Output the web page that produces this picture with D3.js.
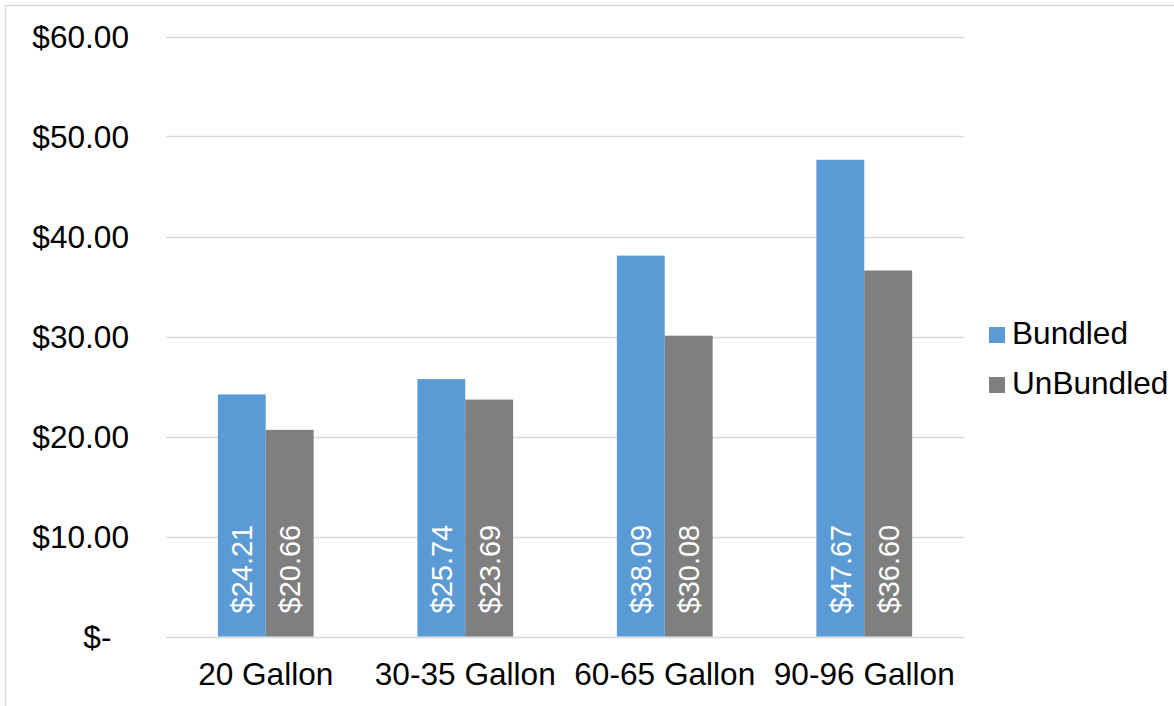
<!DOCTYPE html>
<html>
<head>
<meta charset="utf-8">
<script src="https://cdn.jsdelivr.net/npm/d3@7"></script>
<style>
  html, body { margin: 0; padding: 0; background: #fff; }
  svg { display: block; font-family: "Liberation Sans", Arial, sans-serif; }
  text { white-space: pre; }
</style>
</head>
<body>
<svg id="chart" width="1174" height="706"></svg>
<script>
// Water heater sizes and monthly prices
const categories = ["20 Gallon", "30-35 Gallon", "60-65 Gallon", "90-96 Gallon"];
const seriesNames = ["Bundled", "UnBundled"];
const bundled = [24.21, 25.74, 38.09, 47.67];
const unbundled = [20.66, 23.69, 30.08, 36.60];
const yTicks = [0, 10, 20, 30, 40, 50, 60];
const colors = ["#5B9BD5", "#7F7F7F"];

const seriesValues = [bundled, unbundled];
const rows = categories.map((c, i) => ({
  category: c,
  values: seriesNames.map((s, j) => ({ series: s, value: seriesValues[j][i], color: colors[j] }))
}));

const svg = d3.select("#chart");
const fontSize = 31.6;

// Chart area frame
svg.append("rect")
  .attr("x", 5.5).attr("y", 5.5)
  .attr("width", 1200).attr("height", 750)
  .attr("fill", "#fff")
  .attr("stroke", "#d9d9d9")
  .attr("stroke-width", 1.5);

const plot = { left: 166, right: 964, top: 36.5, bottom: 636.5 };

const x0 = d3.scaleBand()
  .domain(categories)
  .range([plot.left, plot.right])
  .paddingInner(0.52)
  .paddingOuter(0.26);

const x1 = d3.scaleBand()
  .domain(seriesNames)
  .range([0, x0.bandwidth()])
  .padding(0);

const y = d3.scaleLinear()
  .domain([0, 60])
  .range([plot.bottom, plot.top]);

// Horizontal gridlines
svg.append("g")
  .selectAll("line")
  .data(yTicks)
  .join("line")
  .attr("x1", plot.left).attr("x2", plot.right)
  .attr("y1", d => Math.round(y(d)) + 0.5)
  .attr("y2", d => Math.round(y(d)) + 0.5)
  .attr("stroke", "#d9d9d9")
  .attr("stroke-width", 1.5);

// Value axis (accounting format)
const fmt = d => d === 0 ? "$-  " : "$" + d3.format(".2f")(d);
const yAxis = d3.axisLeft(y).tickValues(yTicks).tickFormat(fmt).tickSize(0).tickPadding(0);
const yg = svg.append("g").attr("transform", "translate(129,0)").call(yAxis);
yg.select(".domain").remove();
yg.selectAll("text")
  .attr("font-size", fontSize)
  .attr("font-family", "'Liberation Sans', Arial, sans-serif")
  .attr("fill", "#000")
  .attr("dy", "0.36em");

// Category axis
const xAxis = d3.axisBottom(x0).tickSize(0).tickPadding(0);
const xg = svg.append("g").attr("transform", `translate(0,${plot.bottom})`).call(xAxis);
xg.select(".domain").remove();
xg.selectAll("text")
  .attr("font-size", fontSize)
  .attr("font-family", "'Liberation Sans', Arial, sans-serif")
  .attr("fill", "#000")
  .attr("y", 48.5)
  .attr("dy", 0);

// Bars
const groups = svg.append("g")
  .selectAll("g")
  .data(rows)
  .join("g")
  .attr("transform", d => `translate(${x0(d.category)},0)`);

groups.selectAll("rect")
  .data(d => d.values)
  .join("rect")
  .attr("x", d => x1(d.series))
  .attr("y", d => y(d.value))
  .attr("width", x1.bandwidth())
  .attr("height", d => y(0) - y(d.value))
  .attr("fill", d => d.color);

// Value labels inside the base of each bar, rotated
groups.selectAll("text")
  .data(d => d.values)
  .join("text")
  .attr("transform", d => `translate(${x1(d.series) + x1.bandwidth() / 2},${y(0) - 23}) rotate(-90)`)
  .attr("dy", "0.36em")
  .attr("text-anchor", "start")
  .attr("font-size", 29)
  .attr("fill", "#fff")
  .text(d => "$" + d3.format(".2f")(d.value));

// Legend
const legend = svg.append("g")
  .selectAll("g")
  .data(seriesNames)
  .join("g")
  .attr("transform", (d, i) => `translate(989,${327 + i * 50})`);

legend.append("rect")
  .attr("width", 16).attr("height", 16)
  .attr("fill", (d, i) => colors[i]);

legend.append("text")
  .attr("x", 23).attr("y", 17)
  .attr("font-size", fontSize)
  .attr("fill", "#000")
  .text(d => d);
</script>
</body>
</html>
